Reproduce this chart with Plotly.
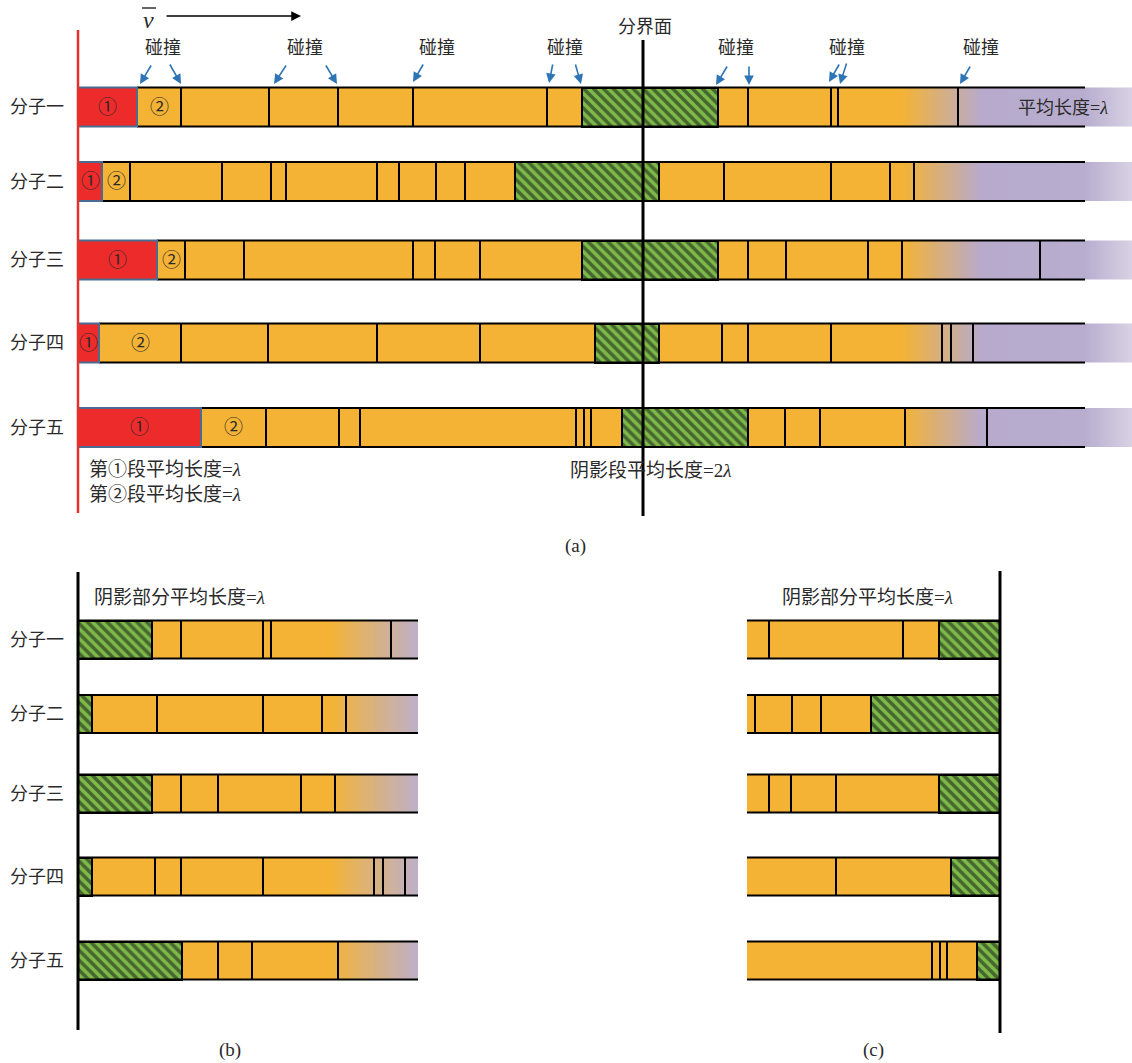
import numpy as np
import plotly.graph_objects as go

W, H = 1132, 1063

# ---------------- data ----------------
mol_names = ["分子一", "分子二", "分子三", "分子四", "分子五"]

# panel (a): positions along the free path
a_seg1_end = [137, 102, 157, 99, 201]          # end of segment ①
a_seg2_end = [181, 130, 185, 181, 266]         # end of segment ②
a_hatch = [[582, 718], [515, 659], [582, 718], [595, 659], [622, 748]]
a_collisions = [
    [269, 338, 413, 547, 748, 831, 838, 958],
    [222, 271, 286, 377, 399, 436, 465, 724, 831, 890, 914],
    [244, 413, 435, 480, 748, 786, 868, 902, 1040],
    [268, 377, 480, 722, 748, 831, 942, 951, 973],
    [339, 360, 576, 584, 591, 785, 820, 905, 987],
]
a_start = 78
a_bar_end = 1085
a_fade_end = 1132
interface_x = 643

collision_label_x = [163, 305, 437, 565, 736, 847, 981]
collision_arrows = [  # tail x, tail y, head x, head y
    [152, 64, 140, 84], [169, 63, 181, 84], [287, 64, 274, 84], [325, 64, 337, 84],
    [424, 63, 413, 82], [553, 63, 549, 83], [575, 63, 581, 84], [728, 65, 716, 85],
    [749, 65, 749, 85], [840, 63, 829, 82], [847, 62, 840, 84], [971, 65, 960, 84],
]

# panel (b)
b_start = 78
b_hatch_end = [152, 92, 152, 92, 182]
b_collisions = [[181, 263, 271, 391], [157, 263, 322, 346], [181, 218, 301, 335],
                [155, 181, 263, 374, 383, 405], [218, 252, 338]]
b_end = 418

# panel (c)
c_start = 747
c_hatch_start = [939, 871, 939, 951, 977]
c_collisions = [[769, 903], [755, 792, 821], [769, 791, 836], [836], [932, 940, 947]]
c_end = 1000

# ---------------- layout constants ----------------
a_rows_y = [107, 181.5, 260, 343, 427.5]
a_h = 39
bc_rows_y = [639.5, 714, 793.5, 876.5, 960.5]
bc_h = 38

ORANGE = "#F4B335"
RED = "#EE2B2B"
GREEN = "#7DBA4A"
BLUE_EDGE = "#4A6C93"
ARROW_BLUE = "#2E75B6"
TXT = "#2a2a2a"
FONT = "'Liberation Serif', 'Noto Sans CJK SC', serif"

fig = go.Figure()
shapes = []
annotations = []


def hbar(x0, x1, yc, h, color, line_w=0, hatch=False):
    marker = dict(color=color, line=dict(width=line_w, color="black"))
    if hatch:
        marker["pattern"] = dict(shape="\\", fgcolor="#111111", bgcolor=GREEN,
                                 size=7, solidity=0.5)
    fig.add_trace(go.Bar(orientation="h", y=[yc], x=[x1 - x0], base=[x0], width=[h],
                         marker=marker, hoverinfo="skip", showlegend=False))


def gradient(x0, x1, yc, h, stops, n=120):
    xs = np.linspace(x0, x1, n + 1)
    zc = (xs[:-1] + xs[1:]) / 2
    cs = [[(p - x0) / (x1 - x0), c] for p, c in stops]
    fig.add_trace(go.Heatmap(x=xs, y=[yc - h / 2, yc + h / 2], z=[zc], zmin=x0, zmax=x1,
                             colorscale=cs, showscale=False, hoverinfo="skip", zsmooth=False))


def line(x0, y0, x1, y1, color="black", w=2):
    shapes.append(dict(type="line", x0=x0, y0=y0, x1=x1, y1=y1, xref="x", yref="y",
                       line=dict(color=color, width=w), layer="above"))


def text(x, y, s, size=18, xanchor="center", color=TXT):
    annotations.append(dict(x=x, y=y, xref="x", yref="y", text=s, showarrow=False,
                            xanchor=xanchor, yanchor="middle",
                            font=dict(family=FONT, size=size, color=color)))


def arrow(tx, ty, hx, hy, color, w=1.5, size=1.3):
    annotations.append(dict(x=hx, y=hy, ax=tx, ay=ty, xref="x", yref="y", axref="x", ayref="y",
                            text="", showarrow=True, arrowhead=2, arrowsize=size,
                            arrowwidth=w, arrowcolor=color, standoff=0, startstandoff=0))


# ---------------- panel (a) ----------------
GRAD_A0 = 902
a_stops = [(902, ORANGE), (982, "#B7AACD"), (1085, "#B8ADCF"), (1132, "#D8D2E4")]
for i, yc in enumerate(a_rows_y):
    top, bot = yc - a_h / 2, yc + a_h / 2
    hbar(a_seg1_end[i], GRAD_A0, yc, a_h, ORANGE)
    hbar(a_start, a_seg1_end[i], yc, a_h, RED)
    gradient(GRAD_A0, a_fade_end, yc, a_h, a_stops)
    hbar(a_hatch[i][0], a_hatch[i][1], yc, a_h, GREEN, line_w=2, hatch=True)
    line(a_seg1_end[i], top, a_bar_end, top)
    line(a_seg1_end[i], bot, a_bar_end, bot)
    for cx in [a_seg2_end[i]] + a_collisions[i]:
        line(cx, top, cx, bot)
    shapes.append(dict(type="rect", x0=a_start, x1=a_seg1_end[i], y0=top, y1=bot,
                       xref="x", yref="y", line=dict(color=BLUE_EDGE, width=2), layer="above"))
    text((a_start + a_seg1_end[i]) / 2, yc, "①", size=19)
    text((a_seg1_end[i] + a_seg2_end[i]) / 2, yc, "②", size=19)
    text(37, yc, mol_names[i], size=18)

# red start line and interface
line(a_start, 30, a_start, 513, color="#E8302A", w=2.5)
line(interface_x, 40, interface_x, 516, color="black", w=3)
text(645, 27, "分界面", size=18)

for x in collision_label_x:
    text(x, 48, "碰撞", size=18)
for tx, ty, hx, hy in collision_arrows:
    arrow(tx, ty, hx, hy, ARROW_BLUE, w=1.6, size=1.2)

# velocity symbol and arrow
text(148, 20, "<i>v</i>", size=24)
line(142, 8, 156, 8, color="black", w=1.2)
arrow(165, 16, 301, 16, "black", w=1.5, size=1.3)

text(1063, 108, "平均长度=<i>λ</i>", size=18)
text(87, 469, "第①段平均长度=<i>λ</i>", size=19, xanchor="left")
text(87, 494, "第②段平均长度=<i>λ</i>", size=19, xanchor="left")
text(568, 470, "阴影段平均长度=2<i>λ</i>", size=19, xanchor="left")
text(575, 546, "(a)", size=19)

# ---------------- panel (b) ----------------
b_stops = [(330, ORANGE), (418, "#BEB0CA")]
for i, yc in enumerate(bc_rows_y):
    top, bot = yc - bc_h / 2, yc + bc_h / 2
    hbar(b_hatch_end[i], 330, yc, bc_h, ORANGE)
    gradient(330, b_end, yc, bc_h, b_stops, n=60)
    hbar(b_start, b_hatch_end[i], yc, bc_h, GREEN, line_w=2, hatch=True)
    line(b_start, top, b_end, top)
    line(b_start, bot, b_end, bot)
    for cx in b_collisions[i]:
        line(cx, top, cx, bot)
    text(37, yc, mol_names[i], size=18)

line(b_start, 572, b_start, 1030, color="black", w=3)
text(92, 597, "阴影部分平均长度=<i>λ</i>", size=19, xanchor="left")
text(230, 1050, "(b)", size=19)

# ---------------- panel (c) ----------------
for i, yc in enumerate(bc_rows_y):
    top, bot = yc - bc_h / 2, yc + bc_h / 2
    hbar(c_start, c_hatch_start[i], yc, bc_h, ORANGE)
    hbar(c_hatch_start[i], c_end, yc, bc_h, GREEN, line_w=2, hatch=True)
    line(c_start, top, c_end, top)
    line(c_start, bot, c_end, bot)
    for cx in c_collisions[i]:
        line(cx, top, cx, bot)

line(c_end, 571, c_end, 1033, color="black", w=3)
text(780, 597, "阴影部分平均长度=<i>λ</i>", size=19, xanchor="left")
text(873, 1050, "(c)", size=19)

fig.update_layout(
    width=W, height=H, margin=dict(l=0, r=0, t=0, b=0),
    paper_bgcolor="white", plot_bgcolor="white",
    barmode="overlay", bargap=0, showlegend=False, hovermode=False,
    xaxis=dict(range=[0, W], visible=False, fixedrange=True),
    yaxis=dict(range=[H, 0], visible=False, fixedrange=True),
    shapes=shapes, annotations=annotations,
)

fig.write_html("out.html")
